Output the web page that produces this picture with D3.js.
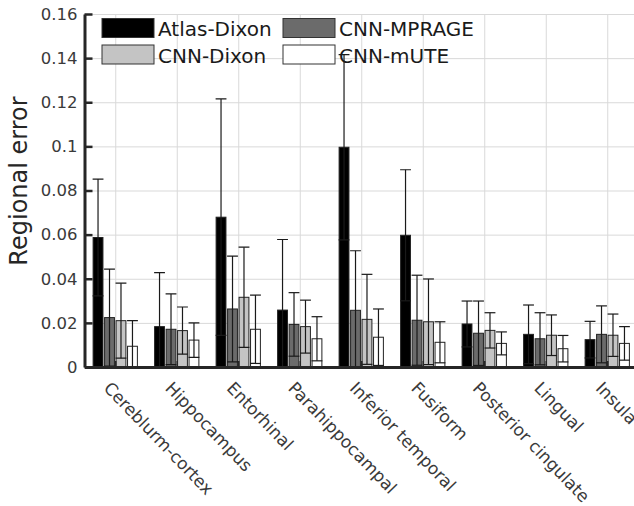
<!DOCTYPE html>
<html>
<head>
<meta charset="utf-8">
<script src="https://cdn.jsdelivr.net/npm/d3@7"></script>
<style>
  body { margin: 0; background: #fff; }
  svg { display: block; font-family: "DejaVu Sans", sans-serif; }
</style>
</head>
<body>
<svg id="canvas" width="634" height="506"></svg>
<script>
// regions on the x axis
const regions = ['Cereblurm-cortex', 'Hippocampus', 'Entorhinal', 'Parahippocampal',
    'Inferior temporal', 'Fusiform', 'Posterior cingulate', 'Lingual', 'Insula']

// mean regional error and std per method
const atlasDixon   = [0.0587, 0.0183, 0.0679, 0.0258, 0.0996, 0.0597, 0.0195, 0.0148, 0.0124]
const atlasDixonSd = [0.0265, 0.0245, 0.0536, 0.0320, 0.0420, 0.0297, 0.0104, 0.0133, 0.0083]
const cnnMprage    = [0.0224, 0.0171, 0.0263, 0.0193, 0.0257, 0.0212, 0.0153, 0.0128, 0.0148]
const cnnMprageSd  = [0.0220, 0.0160, 0.0240, 0.0144, 0.0270, 0.0204, 0.0146, 0.0118, 0.0129]
const cnnDixon     = [0.0210, 0.0165, 0.0316, 0.0183, 0.0216, 0.0205, 0.0166, 0.0144, 0.0144]
const cnnDixonSd   = [0.0170, 0.0107, 0.0227, 0.0120, 0.0204, 0.0194, 0.0080, 0.0092, 0.0096]
const cnnMute      = [0.0094, 0.0122, 0.0171, 0.0128, 0.0135, 0.0112, 0.0107, 0.0083, 0.0107]
const cnnMuteSd    = [0.0116, 0.0078, 0.0155, 0.0100, 0.0128, 0.0093, 0.0052, 0.0060, 0.0076]

const seriesNames = ['Atlas-Dixon', 'CNN-MPRAGE', 'CNN-Dixon', 'CNN-mUTE']
const seriesColors = ['#000000', '#6b6b6b', '#c4c4c4', '#ffffff']

const yTicks = [0, 0.02, 0.04, 0.06, 0.08, 0.1, 0.12, 0.14, 0.16]
const yTickLabels = ['0', '0.02', '0.04', '0.06', '0.08', '0.1', '0.12', '0.14', '0.16']

let series = [
    {name: seriesNames[0], mean: atlasDixon, sd: atlasDixonSd, color: seriesColors[0]},
    {name: seriesNames[1], mean: cnnMprage, sd: cnnMprageSd, color: seriesColors[1]},
    {name: seriesNames[2], mean: cnnDixon, sd: cnnDixonSd, color: seriesColors[2]},
    {name: seriesNames[3], mean: cnnMute, sd: cnnMuteSd, color: seriesColors[3]}
]

let svg = d3.select('#canvas')

let x = d3.scaleLinear().domain([0.5, regions.length + 0.5]).range([84.5, 638])
let y = d3.scaleLinear().domain([0, 0.16]).range([367, 14])
let xSub = d3.scalePoint().domain(seriesNames).range([-0.28, 0.28])
let barHalf = 0.08

// grid
svg.append('g')
    .attr('transform', 'translate(' + x(0.5) + ',0)')
    .call(d3.axisLeft(y).tickValues(yTicks).tickSize(-(x(regions.length + 0.5) - x(0.5))).tickFormat(''))
    .call(g => g.select('.domain').remove())
    .call(g => g.selectAll('line').attr('stroke', '#d9d9d9').attr('stroke-width', 1))

svg.append('g')
    .attr('transform', 'translate(0,' + y(0) + ')')
    .call(d3.axisBottom(x).tickValues(d3.range(1, regions.length + 1)).tickSize(-(y(0) - y(0.16))).tickFormat(''))
    .call(g => g.select('.domain').remove())
    .call(g => g.selectAll('line').attr('stroke', '#d9d9d9').attr('stroke-width', 1))

svg.append('clipPath').attr('id', 'plotclip')
    .append('rect')
    .attr('x', x(0.5)).attr('y', y(0.16))
    .attr('width', x(regions.length + 0.5) - x(0.5))
    .attr('height', y(0) - y(0.16))

let plot = svg.append('g').attr('clip-path', 'url(#plotclip)')

// bars
series.forEach((s) => {
    let off = xSub(s.name)
    plot.append('g')
        .selectAll('rect')
        .data(s.mean)
        .enter()
        .append('rect')
        .attr('x', (d, i) => x(i + 1 + off - barHalf))
        .attr('width', (d, i) => x(i + 1 + off + barHalf) - x(i + 1 + off - barHalf))
        .attr('y', (d) => y(d))
        .attr('height', (d) => y(0) - y(d))
        .attr('fill', s.color)
        .attr('stroke', '#222')
        .attr('stroke-width', 1)
})

// error bars
series.forEach((s) => {
    let off = xSub(s.name)
    let g = plot.append('g').attr('stroke', '#1a1a1a').attr('stroke-width', 1.2)
    s.mean.forEach((m, i) => {
        let cx = x(i + 1 + off)
        let hi = m + s.sd[i]
        let lo = m - s.sd[i]
        let cap = (x(i + 1 + off + barHalf) - x(i + 1 + off - barHalf)) / 2 + 0.5
        g.append('line').attr('x1', cx).attr('x2', cx).attr('y1', y(lo)).attr('y2', y(hi))
        g.append('line').attr('x1', cx - cap).attr('x2', cx + cap).attr('y1', y(hi)).attr('y2', y(hi))
        g.append('line').attr('x1', cx - cap).attr('x2', cx + cap).attr('y1', y(lo)).attr('y2', y(lo))
    })
})

// axes
let yAxis = svg.append('g')
    .attr('transform', 'translate(' + x(0.5) + ',0)')
    .call(d3.axisLeft(y).tickValues(yTicks).tickFormat((d, i) => yTickLabels[i]).tickSizeInner(-8).tickSizeOuter(0).tickPadding(7))
yAxis.select('.domain').attr('stroke', '#262626').attr('stroke-width', 3)
yAxis.selectAll('.tick line').attr('stroke', '#262626').attr('stroke-width', 2.5)
yAxis.selectAll('text').attr('fill', '#3a3a3a').style('font-size', '16.5px').style('font-family', 'DejaVu Sans')

let xAxis = svg.append('g')
    .attr('transform', 'translate(0,' + y(0) + ')')
    .call(d3.axisBottom(x).tickValues(d3.range(1, regions.length + 1)).tickFormat((d) => regions[d - 1]).tickSizeInner(-6).tickSizeOuter(0))
xAxis.select('.domain').attr('stroke', '#262626').attr('stroke-width', 3)
xAxis.selectAll('.tick line').attr('stroke', '#262626').attr('stroke-width', 1.5)
xAxis.selectAll('text')
    .attr('fill', '#3a3a3a')
    .attr('y', 0)
    .attr('dy', 0)
    .attr('text-anchor', 'start')
    .attr('transform', 'translate(-13,22) rotate(46)')
    .style('font-size', '17px')
    .style('font-family', 'DejaVu Sans')

svg.append('text')
    .attr('transform', 'translate(27,' + 181 + ') rotate(-90)')
    .attr('text-anchor', 'middle')
    .attr('fill', '#262626')
    .style('font-size', '24px')
    .text('Regional error')

// legend, two columns
let legend = svg.append('g')
let legendCols = [102, 283]
let legendRows = [18.5, 45]
series.forEach((s, i) => {
    let lx = legendCols[i % 2]
    let ly = legendRows[Math.floor(i / 2)]
    legend.append('rect')
        .attr('x', lx).attr('y', ly)
        .attr('width', 52).attr('height', 19)
        .attr('fill', s.color)
        .attr('stroke', '#333')
        .attr('stroke-width', 1)
    legend.append('text')
        .attr('x', lx + 56).attr('y', ly + 17.5)
        .attr('fill', '#1a1a1a')
        .style('font-size', '20px')
        .text(s.name)
})
</script>
</body>
</html>
